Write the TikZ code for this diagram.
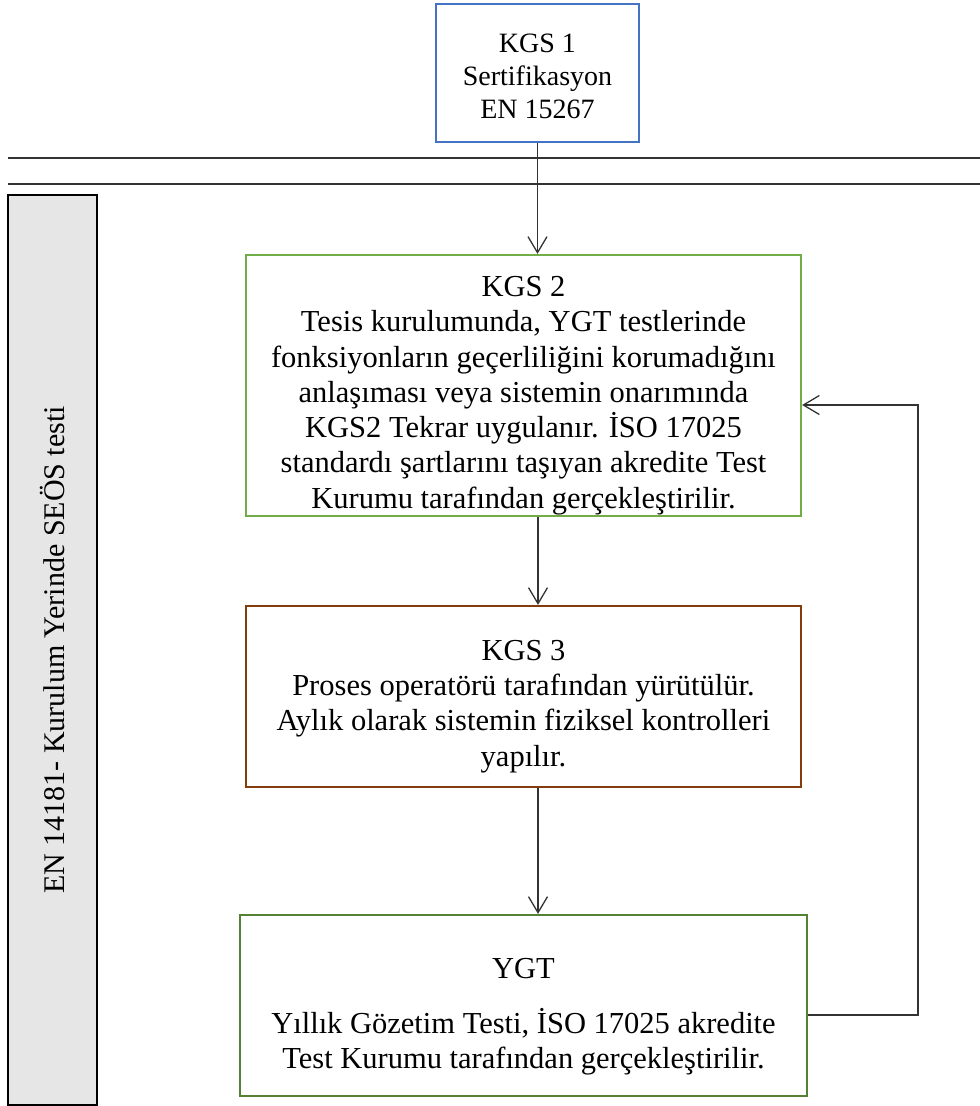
\documentclass[tikz,border=0pt]{standalone}
\usepackage{fontspec}
\setmainfont{Liberation Serif}
\usetikzlibrary{arrows.meta}
\definecolor{cblue}{HTML}{4472C4}
\definecolor{cgreen}{HTML}{70AD47}
\definecolor{cbrown}{HTML}{843C0C}
\definecolor{cdgreen}{HTML}{548235}
\definecolor{cgray}{HTML}{E6E6E6}
\definecolor{cline}{HTML}{333333}
\begin{document}
\begin{tikzpicture}[x=1pt,y=-1pt,
  box/.style={draw, line width=2.2pt, inner sep=0pt},
  btext/.style={align=center, inner sep=0pt, font=\fontsize{30.5}{35.3}\selectfont},
  arr/.style={draw=cline, line width=1.3pt, -{Straight Barb[length=16pt,width=19pt,line width=1.3pt]}},
  rule/.style={draw=cline, line width=1.5pt}]
\useasboundingbox (0,0) rectangle (980,1106);
% horizontal rules
\draw[rule] (8,158) -- (980,158);
\draw[rule] (8,184) -- (980,184);
% left bar
\node[draw=black, fill=cgray, line width=2.6pt, minimum width=89pt, minimum height=910pt, inner sep=0pt] (bar) at (52.5,650) {};
\node[rotate=90, font=\fontsize{30}{34}\selectfont] (bartext) at (52,650) {EN 14181- Kurulum Yerinde SEÖS testi};
% boxes
\node[box, draw=cblue, minimum width=203pt, minimum height=138pt] (k1) at (537.5,73) {};
\node[btext, font=\fontsize{28}{33}\selectfont] (k1t) at (537.5,76) {KGS 1\\Sertifikasyon\\EN 15267};
\node[box, draw=cgreen, minimum width=555pt, minimum height=261pt] (k2) at (523.5,385.5) {};
\node[btext] (k2t) at (523.5,395.5) {KGS 2\\Tesis kurulumunda, YGT testlerinde\\fonksiyonların geçerliliğini korumadığını\\anlaşıması veya sistemin onarımında\\KGS2 Tekrar uygulanır. İSO 17025\\standardı şartlarını taşıyan akredite Test\\Kurumu tarafından gerçekleştirilir.};
\node[box, draw=cbrown, minimum width=555pt, minimum height=181pt] (k3) at (523.5,696.5) {};
\node[btext] (k3t) at (523.5,706.5) {KGS 3\\Proses operatörü tarafından yürütülür.\\Aylık olarak sistemin fiziksel kontrolleri\\yapılır.};
\node[box, draw=cdgreen, minimum width=567pt, minimum height=181pt] (k4) at (523.5,1005.5) {};
\node[btext] (k4t) at (523.5,1016.5) {YGT\\[20pt]Yıllık Gözetim Testi, İSO 17025 akredite\\Test Kurumu tarafından gerçekleştirilir.};
% connectors
\coordinate (a1) at (538,0);
\draw[arr] (k1.south) -- (k1.south |- k2.north);
\draw[arr] (a1 |- k2.south) -- (a1 |- k3.north);
\draw[arr] (a1 |- k3.south) -- (a1 |- k4.north);
\coordinate (fb1) at (918,1015);
\coordinate (fb2) at (918,405);
\draw[arr] (k4.east |- fb1) -- (fb1) -- (fb2) -- (k2.east |- fb2);
\end{tikzpicture}
\end{document}
